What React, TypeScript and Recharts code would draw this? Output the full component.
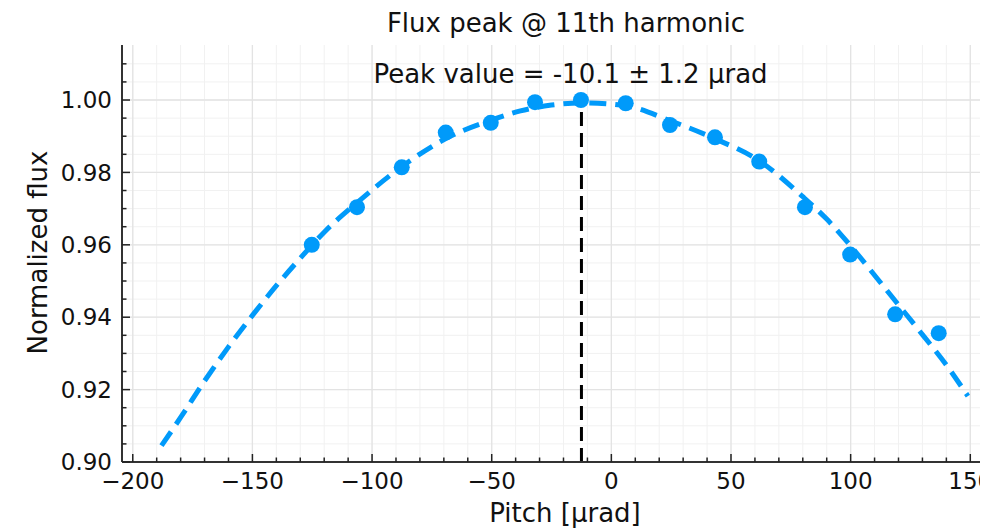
import { ComposedChart, Scatter, Line, XAxis, YAxis, CartesianGrid, ReferenceLine } from 'recharts'

// measured points
const pitch = [-125.2, -106.3, -87.6, -69.2, -50.4, -31.9, -12.7, 6.0, 24.5, 43.3, 61.8, 80.9, 99.8, 118.6, 136.8]
const flux = [0.96, 0.9704, 0.9814, 0.991, 0.9937, 0.9994, 1.0, 0.9991, 0.9931, 0.9897, 0.983, 0.9704, 0.9573, 0.9408, 0.9356]

// fitted curve
const fitPitch = [-188, -180, -170, -160, -150, -140, -130, -120, -106, -88, -69, -50, -38, -25, -12.5, 6, 24.5, 43, 62, 80, 90, 100, 110, 120, 130, 140, 149]
const fitFlux = [0.9045, 0.9123, 0.9224, 0.9318, 0.9405, 0.9487, 0.9563, 0.9635, 0.9718, 0.9814, 0.9894, 0.9945, 0.997, 0.9986, 0.9992, 0.9984, 0.9943, 0.9894, 0.9831, 0.9733, 0.9671, 0.9597, 0.9516, 0.9434, 0.9352, 0.9268, 0.9182]

const peakPitch = -12.5
const peakFlux = 0.9992

const xTicks = [-200, -190, -180, -170, -160, -150, -140, -130, -120, -110, -100, -90, -80, -70, -60, -50, -40, -30, -20, -10, 0, 10, 20, 30, 40, 50, 60, 70, 80, 90, 100, 110, 120, 130, 140, 150]
const xMajor = [-200, -150, -100, -50, 0, 50, 100, 150]
const yTicks = [0.9, 0.905, 0.91, 0.915, 0.92, 0.925, 0.93, 0.935, 0.94, 0.945, 0.95, 0.955, 0.96, 0.965, 0.97, 0.975, 0.98, 0.985, 0.99, 0.995, 1.0, 1.005, 1.01]
const yMajor = [0.9, 0.92, 0.94, 0.96, 0.98, 1.0]

const points = pitch.map((x, i) => ({ x, y: flux[i] }))
const fit = fitPitch.map((x, i) => ({ x, y: fitFlux[i] }))

const BLUE = '#009AFA'
const FONT = '"DejaVu Sans", sans-serif'

const fmtX = (v: number) => (v < 0 ? '\u2212' + Math.abs(v) : String(v))

function XTick(props: any) {
  const { x, y, payload, top } = props
  const major = xMajor.includes(payload.value)
  const len = major ? 8 : 4.5
  const dir = top ? 1 : -1
  return (
    <g>
      <line x1={x} x2={x} y1={y} y2={y + dir * len} stroke="#222" strokeWidth={1.5} />
      {!top && major && (
        <text x={x} y={y + 27} textAnchor="middle" fontSize={23} fontFamily={FONT} fill="#111">
          {fmtX(payload.value)}
        </text>
      )}
    </g>
  )
}

function YTick(props: any) {
  const { x, y, payload } = props
  const major = yMajor.some((m) => Math.abs(m - payload.value) < 1e-6)
  const len = major ? 8 : 4.5
  return (
    <g>
      <line x1={x} x2={x + len} y1={y} y2={y} stroke="#222" strokeWidth={1.5} />
      {major && (
        <text x={x - 10} y={y} dy="0.36em" textAnchor="end" fontSize={23} fontFamily={FONT} fill="#111">
          {payload.value.toFixed(2)}
        </text>
      )}
    </g>
  )
}

function Dot(props: any) {
  return <circle cx={props.cx} cy={props.cy} r={8} fill={BLUE} />
}

export default function App() {
  return (
    <div style={{ position: 'relative', width: 980, height: 521, fontFamily: FONT }}>
      <ComposedChart width={980} height={521} margin={{ top: 37, right: 0, bottom: 7, left: 34 }}>
        <CartesianGrid verticalValues={xTicks} horizontalValues={yTicks} stroke="#f1f1f1" strokeWidth={1} />
        <CartesianGrid verticalValues={xMajor} horizontalValues={yMajor} stroke="#e3e3e3" strokeWidth={1.3} />
        <XAxis
          dataKey="x"
          type="number"
          domain={[-204.5, 157.4]}
          allowDataOverflow
          ticks={xTicks}
          interval={0}
          tickSize={0}
          tickMargin={0}
          tickLine={false}
          tick={<XTick />}
          axisLine={{ stroke: '#333', strokeWidth: 2 }}
          height={60}
        />
        <XAxis
          xAxisId="top"
          orientation="top"
          dataKey="x"
          type="number"
          domain={[-204.5, 157.4]}
          allowDataOverflow
          ticks={xTicks}
          interval={0}
          tickSize={0}
          tickMargin={0}
          tickLine={false}
          tick={<XTick top />}
          axisLine={{ stroke: '#333', strokeWidth: 2 }}
          height={0}
        />
        <YAxis
          dataKey="y"
          type="number"
          domain={[0.9, 1.0152]}
          allowDataOverflow
          ticks={yTicks}
          interval={0}
          tickSize={0}
          tickMargin={0}
          tickLine={false}
          tick={<YTick />}
          axisLine={{ stroke: '#333', strokeWidth: 2 }}
          width={80}
        />
        <Scatter data={points} dataKey="y" fill={BLUE} shape={Dot} isAnimationActive={false} />
        <Line
          data={fit}
          dataKey="y"
          type="monotone"
          stroke={BLUE}
          strokeWidth={5}
          strokeDasharray="17 9"
          dot={false}
          activeDot={false}
          isAnimationActive={false}
        />
        <ReferenceLine
          segment={[{ x: peakPitch, y: 0.9 }, { x: peakPitch, y: peakFlux }]}
          stroke="#000"
          strokeWidth={3}
          strokeDasharray="14 7"
        />
      </ComposedChart>
      <svg width={980} height={521} style={{ position: 'absolute', left: 0, top: 0, pointerEvents: 'none' }}>
        <text x={558} y={23.5} textAnchor="middle" fontSize={26} fontFamily={FONT} fill="#111">
          Flux peak @ 11th harmonic
        </text>
        <text x={562.5} y={75} textAnchor="middle" fontSize={26} fontFamily={FONT} fill="#111">
          Peak value = -10.1 ± 1.2 μrad
        </text>
        <text x={557} y={514} textAnchor="middle" fontSize={26} fontFamily={FONT} fill="#111">
          Pitch [μrad]
        </text>
        <text transform="translate(38.5,244.5) rotate(-90)" textAnchor="middle" fontSize={26} fontFamily={FONT} fill="#111">
          Normalized flux
        </text>
      </svg>
    </div>
  )
}
